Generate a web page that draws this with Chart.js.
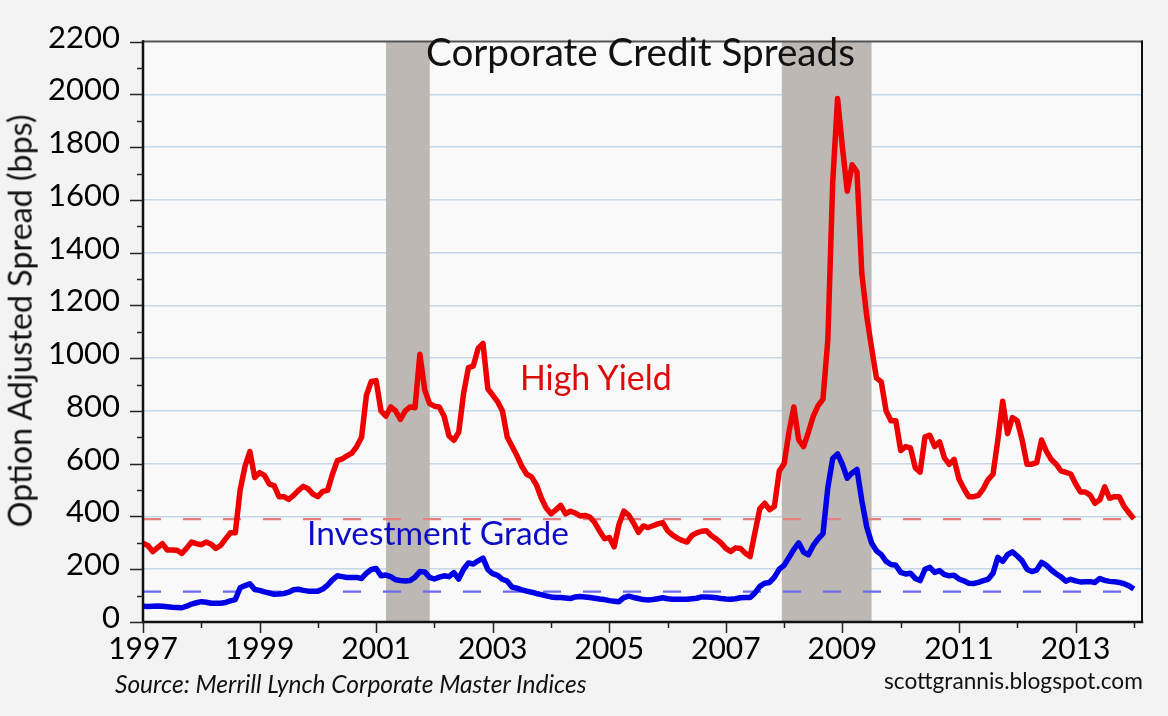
<!DOCTYPE html>
<html>
<head>
<meta charset="utf-8">
<script src="https://cdn.jsdelivr.net/npm/chart.js@4.4.1/dist/chart.umd.min.js"></script>
<style>
html,body{margin:0;padding:0;background:#f3f3f3;overflow:hidden;}
#wrap{position:relative;width:1168px;height:716px;}
#c{position:absolute;left:0;top:0;}
.lbl{position:absolute;white-space:nowrap;margin:0;padding:0;}
</style>
</head>
<body>
<div id="wrap">
<canvas id="c" width="1168" height="716"></canvas>
<div class="lbl" id="tTitle">Corporate Credit Spreads</div>
<div class="lbl" id="tHY">High Yield</div>
<div class="lbl" id="tIG">Investment Grade</div>
<div class="lbl" id="tY">Option Adjusted Spread (bps)</div>
<div class="lbl" id="tSrc">Source: Merrill Lynch Corporate Master Indices</div>
<div class="lbl" id="tWeb">scottgrannis.blogspot.com</div>
</div>
<script>
// ---------------- DATA ----------------
const startYear = 1997;          // monthly observations starting January 1997
const xMax = 2014.14;
// High Yield option-adjusted spread (bps), monthly
const highYield = [
  298, 290, 267, 282, 297, 273, 273, 272, 260, 280, 303, 297,   // 1997
  293, 303, 295, 279, 290, 315, 338, 338, 500, 590, 646, 548,   // 1998
  566, 556, 523, 517, 475, 475, 465, 480, 499, 514, 505, 485,   // 1999
  475, 495, 499, 560, 612, 618, 630, 640, 665, 700, 860, 912,   // 2000
  915, 800, 780, 815, 800, 768, 800, 815, 812, 1015, 880, 828,  // 2001
  818, 815, 780, 705, 689, 719, 866, 964, 970, 1037, 1056, 884, // 2002
  860, 835, 800, 700, 665, 630, 590, 560, 550, 520, 470, 432,   // 2003
  410, 425, 442, 410, 420, 413, 402, 404, 398, 377, 345, 316,   // 2004
  320, 285, 370, 420, 405, 375, 340, 364, 358, 365, 372, 377,   // 2005
  346, 330, 318, 309, 303, 328, 338, 344, 346, 328, 315, 300,   // 2006
  279, 267, 281, 279, 261, 248, 340, 430, 450, 426, 438, 572,   // 2007
  600, 720, 815, 690, 665, 720, 780, 820, 845, 1070, 1666, 1984,// 2008
  1800, 1633, 1733, 1706, 1320, 1160, 1040, 925, 910, 800, 763, 763, // 2009
  650, 665, 660, 585, 568, 702, 708, 665, 683, 622, 598, 616,   // 2010
  542, 506, 475, 475, 480, 505, 540, 560, 690, 837, 714, 775,   // 2011
  763, 690, 598, 598, 604, 690, 647, 616, 598, 573, 567, 561,   // 2012
  524, 493, 493, 481, 450, 463, 512, 469, 475, 475, 438, 414,   // 2013
  391                                                           // 2014
];
// Investment Grade option-adjusted spread (bps), monthly
const investmentGrade = [
  60, 59, 60, 61, 60, 58, 56, 55, 54, 60, 68, 73,               // 1997
  77, 75, 71, 71, 71, 74, 80, 85, 130, 138, 145, 123,           // 1998
  120, 114, 110, 105, 106, 108, 113, 122, 124, 120, 117, 117,   // 1999
  117, 125, 140, 160, 175, 172, 169, 169, 169, 165, 185, 199,   // 2000
  203, 175, 178, 172, 160, 157, 155, 157, 170, 191, 190, 169,   // 2001
  163, 170, 175, 172, 187, 163, 200, 224, 220, 232, 242, 199,   // 2002
  183, 177, 162, 155, 132, 128, 122, 117, 113, 108, 104, 99,    // 2003
  95, 93, 93, 91, 89, 95, 97, 95, 93, 90, 87, 85,               // 2004
  81, 79, 77, 92, 98, 93, 89, 85, 83, 85, 88, 92,               // 2005
  88, 86, 86, 86, 86, 88, 90, 95, 95, 94, 92, 89,               // 2006
  87, 86, 88, 92, 93, 93, 110, 135, 147, 150, 170, 200,         // 2007
  215, 245, 275, 300, 265, 255, 290, 315, 335, 510, 620, 637,   // 2008
  597, 545, 565, 578, 460, 360, 300, 270, 255, 230, 218, 215,   // 2009
  188, 182, 185, 165, 157, 200, 207, 188, 195, 180, 175, 177,   // 2010
  163, 156, 147, 146, 150, 157, 162, 185, 245, 230, 255, 266,   // 2011
  250, 232, 200, 191, 197, 226, 215, 197, 183, 171, 155, 162,   // 2012
  156, 152, 153, 153, 150, 165, 158, 154, 153, 150, 145, 137,   // 2013
  125                                                           // 2014
];
const hyCurrentLevel = 390;   // dashed reference line (High Yield)
const igCurrentLevel = 115;   // dashed reference line (Investment Grade)
const recessionStarts = [2001.17, 2007.96];
const recessionEnds   = [2001.92, 2009.50];
const xTickYears  = [1997,1998,1999,2000,2001,2002,2003,2004,2005,2006,2007,2008,2009,2010,2011,2012,2013,2014];
const xLabelYears = [1997,1999,2001,2003,2005,2007,2009,2011,2013];
const yTickValues = [0,200,400,600,800,1000,1200,1400,1600,1800,2000,2200];
const yMinorValues = [100,300,500,700,900,1100,1300,1500,1700,1900,2100];

// ---------------- STYLE ----------------
const FONT = 'Lato, "Open Sans", sans-serif';
const PAGE_BG = '#f3f3f3';
const PLOT_BG = '#f9f9f9';

const toXY = arr => arr.map((v, i) => ({ x: startYear + i / 12, y: v }));
const levelLine = v => [{ x: startYear, y: v }, { x: xMax, y: v }];

const decorPlugin = {
  id: 'decor',
  beforeDraw(chart) {
    const { ctx, chartArea: a } = chart;
    ctx.save();
    ctx.fillStyle = PAGE_BG;
    ctx.fillRect(0, 0, chart.width, chart.height);
    ctx.fillStyle = PLOT_BG;
    ctx.fillRect(a.left, a.top, a.right - a.left, a.bottom - a.top);
    ctx.restore();
  },
  beforeDatasetsDraw(chart) {
    const { ctx, chartArea: a, scales: { x } } = chart;
    ctx.save();
    ctx.fillStyle = '#bdb8b4';
    recessionStarts.forEach((s, i) => {
      const x0 = x.getPixelForValue(s), x1 = x.getPixelForValue(recessionEnds[i]);
      ctx.fillRect(x0, a.top, x1 - x0, a.bottom - a.top);
    });
    ctx.restore();
  },
  afterDatasetsDraw(chart) {
    const { ctx, chartArea: a, scales: { x, y } } = chart;
    ctx.save();
    // frame
    ctx.lineCap = 'square';
    ctx.strokeStyle = '#555';
    ctx.lineWidth = 2;
    ctx.beginPath(); ctx.moveTo(a.left, a.top); ctx.lineTo(a.right, a.top); ctx.stroke();
    ctx.strokeStyle = '#111';
    ctx.beginPath(); ctx.moveTo(a.right, a.top); ctx.lineTo(a.right, a.bottom); ctx.stroke();
    ctx.lineWidth = 2.5;
    ctx.beginPath(); ctx.moveTo(a.left, a.top); ctx.lineTo(a.left, a.bottom); ctx.lineTo(a.right, a.bottom); ctx.stroke();
    // tick marks
    ctx.lineCap = 'butt';
    ctx.strokeStyle = '#222';
    ctx.lineWidth = 1.5;
    yTickValues.forEach(v => {
      const py = Math.round(y.getPixelForValue(v)) + 0.5;
      ctx.beginPath(); ctx.moveTo(a.left - 13, py); ctx.lineTo(a.left, py); ctx.stroke();
    });
    yMinorValues.forEach(v => {
      const py = Math.round(y.getPixelForValue(v)) + 0.5;
      ctx.beginPath(); ctx.moveTo(a.left - 6, py); ctx.lineTo(a.left, py); ctx.stroke();
    });
    xTickYears.forEach(v => {
      const px = Math.round(x.getPixelForValue(v)) + 0.5;
      const len = (v % 2 === 1) ? 11 : 6;
      ctx.beginPath(); ctx.moveTo(px, a.bottom); ctx.lineTo(px, a.bottom + len); ctx.stroke();
    });
    ctx.restore();
  }
};

new Chart(document.getElementById('c'), {
  type: 'line',
  data: {
    datasets: [
      { label: 'HY level', data: levelLine(hyCurrentLevel), borderColor: '#e98080', borderWidth: 2.2, borderDash: [18, 22], pointRadius: 0, order: 3 },
      { label: 'IG level', data: levelLine(igCurrentLevel), borderColor: '#6b6bea', borderWidth: 2.2, borderDash: [18, 22], pointRadius: 0, order: 4 },
      { label: 'High Yield', data: toXY(highYield), borderColor: '#ee0000', borderWidth: 5.5, pointRadius: 0, borderJoinStyle: 'round', tension: 0, order: 1 },
      { label: 'Investment Grade', data: toXY(investmentGrade), borderColor: '#0000e6', borderWidth: 5.5, pointRadius: 0, borderJoinStyle: 'round', tension: 0, order: 2 }
    ]
  },
  options: {
    responsive: false,
    animation: false,
    events: [],
    layout: { padding: { left: 0, right: 26, top: 24, bottom: 0 } },
    plugins: { legend: { display: false }, tooltip: { enabled: false }, title: { display: false } },
    scales: {
      x: {
        type: 'linear', min: startYear, max: xMax,
        afterFit: s => { s.height = 94; },
        afterBuildTicks: s => { s.ticks = xTickYears.map(v => ({ value: v })); },
        grid: { display: false, drawTicks: false },
        border: { display: false },
        ticks: {
          autoSkip: false, maxRotation: 0, includeBounds: false,
          font: { family: FONT, size: 30 }, color: '#000', padding: 9,
          callback: v => xLabelYears.includes(v) ? String(v) : ''
        }
      },
      y: {
        min: 0, max: 2200,
        afterFit: s => { s.width = 143; },
        afterBuildTicks: s => { s.ticks = yTickValues.map(v => ({ value: v })); },
        grid: {
          drawTicks: false, lineWidth: 1.5,
          color: c => (c.tick && (c.tick.value === 0 || c.tick.value === 2200)) ? 'rgba(0,0,0,0)' : '#c6d7e8'
        },
        border: { display: false },
        ticks: {
          font: { family: FONT, size: 31 }, color: '#000', padding: 23, labelOffset: -4,
          callback: v => String(v)
        }
      }
    }
  },
  plugins: [decorPlugin]
});

// ---------------- TEXT LABELS (HTML) ----------------
const mctx = document.createElement('canvas').getContext('2d');
function placeText(id, o) {
  const el = document.getElementById(id);
  const style = o.italic ? 'italic ' : '';
  mctx.font = style + '100px ' + FONT;
  const m = mctx.measureText(el.textContent);
  const size = 100 * o.width / m.width;
  const k = size / 100;
  const asc = (m.fontBoundingBoxAscent || 98.7) * k;
  const desc = (m.fontBoundingBoxDescent || 21.3) * k;
  const capH = (mctx.measureText('H').actualBoundingBoxAscent || 72) * k;
  el.style.font = style + size.toFixed(2) + 'px ' + FONT;
  el.style.lineHeight = (asc + desc).toFixed(2) + 'px';
  el.style.color = o.color;
  if (!o.rotate) {
    el.style.left = o.left + 'px';
    el.style.top = (o.baseline - asc).toFixed(2) + 'px';
  } else {
    const H = asc + desc;
    const d = (asc - capH / 2) - H / 2;
    const cx = o.capX - d;
    el.style.left = (cx - o.width / 2).toFixed(2) + 'px';
    el.style.top = (o.cy - H / 2).toFixed(2) + 'px';
    el.style.width = o.width + 'px';
    el.style.transform = 'rotate(-90deg)';
    el.style.transformOrigin = '50% 50%';
  }
}
placeText('tTitle', { left: 426, width: 429, baseline: 66.5, color: '#111' });
placeText('tHY', { left: 520, width: 153, baseline: 391, color: '#dd0a0a' });
placeText('tIG', { left: 307, width: 262, baseline: 545, color: '#0c0cc4' });
placeText('tSrc', { left: 115, width: 472, baseline: 693, color: '#111', italic: true });
placeText('tWeb', { left: 884, width: 259, baseline: 689, color: '#111' });
placeText('tY', { rotate: true, width: 414, cy: 320, capX: 21, color: '#111' });
</script>
</body>
</html>
